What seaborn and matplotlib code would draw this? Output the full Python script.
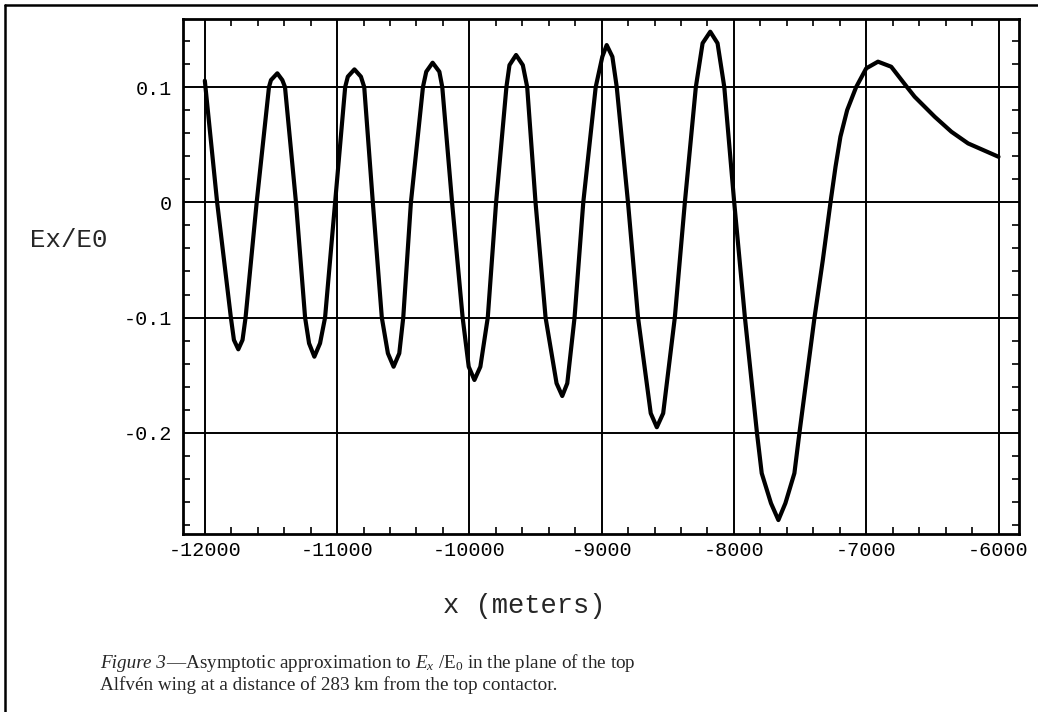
"""
Asymptotic approximation to Ex/E0 along the top Alfven wing (Figure 3 redraw).
"""
import numpy  as np
import pandas as pd
import matplotlib
matplotlib.use("Agg")
import matplotlib.pyplot as plt
import seaborn           as sns

from matplotlib.lines   import Line2D
from matplotlib.ticker  import MultipleLocator

# ================================================================================
# Data
# ================================================================================
x_meters = [
    -12000, -11907, -11803, -11780, -11747, -11715, -11692, -11608, -11515, -11500,
    -11452, -11414, -11394, -11311, -11242, -11212, -11172, -11129, -11091, -11015,
    -10939, -10919, -10869, -10820, -10795, -10730, -10662, -10616, -10573, -10530,
    -10500, -10442, -10351, -10326, -10278, -10227, -10205, -10131, -10051, -10005,
    -9962, -9917, -9861, -9798, -9720, -9697, -9647, -9596, -9563, -9500,
    -9424, -9341, -9298, -9260, -9205, -9139, -9045, -8995, -8962, -8919,
    -8886, -8801, -8725, -8629, -8583, -8535, -8447, -8371, -8288, -8237,
    -8179, -8124, -8073, -7998, -7917, -7826, -7790, -7720, -7664, -7611,
    -7543, -7505, -7391, -7328, -7270, -7232, -7195, -7144, -7076, -7000,
    -6911, -6811, -6692, -6634, -6482, -6356, -6230, -6000,
]
ex_over_e0 = [
    0.1055, 0.0, -0.1, -0.1194, -0.1275, -0.1194, -0.1, 0.0, 0.1, 0.106,
    0.1119, 0.106, 0.1, 0.0, -0.1, -0.1223, -0.1339, -0.1223, -0.1, 0.0,
    0.1, 0.109, 0.1153, 0.109, 0.1, 0.0, -0.1, -0.131, -0.1426, -0.131,
    -0.1, 0.0, 0.1, 0.1133, 0.1211, 0.1133, 0.1, 0.0, -0.1, -0.1426,
    -0.1541, -0.1426, -0.1, 0.0, 0.1, 0.119, 0.1278, 0.119, 0.1, 0.0,
    -0.1, -0.157, -0.168, -0.157, -0.1, 0.0, 0.1, 0.1263, 0.1364, 0.1263,
    0.1, 0.0, -0.1, -0.183, -0.1951, -0.183, -0.1, 0.0, 0.1, 0.138,
    0.148, 0.138, 0.1, 0.0, -0.1, -0.2, -0.235, -0.261, -0.2756, -0.261,
    -0.235, -0.2, -0.1, -0.05, 0.0, 0.0309, 0.0569, 0.080, 0.1, 0.1162,
    0.122, 0.1176, 0.1, 0.0916, 0.0742, 0.0612, 0.0511, 0.0395,
]

x_ticks       = [-12000, -11000, -10000, -9000, -8000, -7000, -6000]
x_tick_labels = ["-12000", "-11000", "-10000", "-9000", "-8000", "-7000", "-6000"]
y_ticks       = [-0.2, -0.1, 0.0, 0.1]
y_tick_labels = ["-0.2", "-0.1", "0", "0.1"]

df = pd.DataFrame({"x": x_meters, "ex": ex_over_e0})

# --------------------------------------------------------------------------------
# Styling
# --------------------------------------------------------------------------------
sns.set_style("white")
MONO  = "Liberation Mono"
SERIF = "Liberation Serif"
plt.rcParams["mathtext.fontset"] = "custom"
plt.rcParams["mathtext.rm"]      = SERIF
plt.rcParams["mathtext.it"]      = SERIF + ":italic"

fig = plt.figure(figsize=(10.38, 7.12), dpi=100)
ax  = fig.add_axes([0.1763, 0.25, 0.8054, 0.7233])

sns.lineplot(data=df, x="x", y="ex", ax=ax, sort=False, color="black",
             linewidth=3.0, estimator=None)

ax.set_xlim(-12165, -5845)
ax.set_ylim(-0.2877, 0.159)

ax.set_xticks(x_ticks)
ax.set_xticklabels(x_tick_labels, fontfamily=MONO, fontsize=14.5)
ax.set_yticks(y_ticks)
ax.set_yticklabels(y_tick_labels, fontfamily=MONO, fontsize=14.5)
ax.xaxis.set_minor_locator(MultipleLocator(200))
ax.yaxis.set_minor_locator(MultipleLocator(0.02))

# Mathematica-style frame: inward ticks on all four sides
ax.tick_params(which="both", direction="in", top=True, right=True,
               bottom=True, left=True, colors="black")
ax.tick_params(which="major", length=0, pad=8)
ax.tick_params(axis="x", which="major", pad=5)
ax.tick_params(which="minor", length=5, width=1.2)

ax.grid(True, which="major", color="black", linewidth=1.4)
for s in ax.spines.values():
    s.set_color("black"); s.set_linewidth(2.0); s.set_visible(True)

ax.set_xlabel("")
ax.set_ylabel("")

# Axis labels placed like the original layout
fig.text(524 / 1038, 1 - 606 / 712, "x (meters)", fontfamily=MONO, fontsize=19.5,
         ha="center", va="center")
fig.text(69 / 1038, 1 - 240 / 712, "Ex/E0", fontfamily=MONO, fontsize=18.5,
         ha="center", va="center")

# --------------------------------------------------------------------------------
# Caption (italic "Figure 3", then the rest right after it)
# --------------------------------------------------------------------------------
CAP_SIZE = 13.8
t1 = fig.text(100 / 1038, 1 - 668 / 712, "Figure 3", fontfamily=SERIF,
              fontstyle="italic", fontsize=CAP_SIZE, ha="left", va="baseline")
fig.canvas.draw()
bb = t1.get_window_extent()
x_after = bb.x1 / fig.bbox.width
fig.text(x_after, 1 - 668 / 712,
         r"—Asymptotic approximation to $E_x$ /E$_0$ in the plane of the top",
         fontfamily=SERIF, fontsize=CAP_SIZE, ha="left", va="baseline")
fig.text(100 / 1038, 1 - 690 / 712,
         "Alfvén wing at a distance of 283 km from the top contactor.",
         fontfamily=SERIF, fontsize=CAP_SIZE, ha="left", va="baseline")

# Page border (top and left edges of the scan)
fig.add_artist(Line2D([5 / 1038, 1.0], [1 - 5 / 712, 1 - 5 / 712],
                      transform=fig.transFigure, color="black", linewidth=1.8))
fig.add_artist(Line2D([5 / 1038, 5 / 1038], [0.0, 1 - 5 / 712],
                      transform=fig.transFigure, color="black", linewidth=1.8))

fig.savefig("out.png", dpi=100)
